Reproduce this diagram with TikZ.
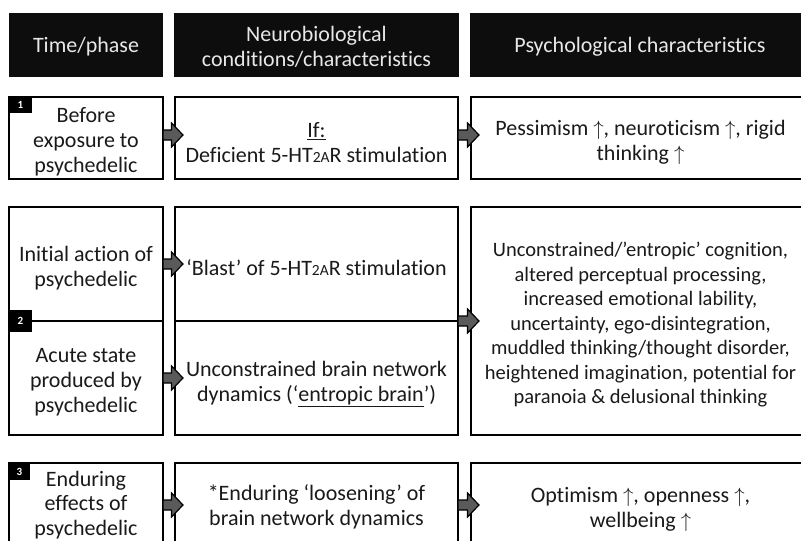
\documentclass[tikz,border=0pt]{standalone}
\usepackage{fontspec}
\setmainfont{Carlito}[Ligatures=NoCommon]
\usetikzlibrary{calc}
\definecolor{txt}{HTML}{1A1A1A}
\definecolor{hdr}{HTML}{0D0D0D}
\definecolor{agray}{HTML}{5A5A5A}
\definecolor{htxt}{HTML}{E8E8E8}
\newcommand{\htwoa}{5-HT{\fontsize{15.5}{15.5}\selectfont 2A}R}
\newcommand{\upar}{ $\uparrow$}
\begin{document}
\begin{tikzpicture}[x=1pt,y=-1pt,
  box/.style={draw=black, line width=2pt, fill=white, inner sep=0pt, outer sep=0pt},
  tx/.style={text=txt, align=center, inner sep=0pt, outer sep=0pt,
    font=\fontsize{22}{25}\selectfont},
  hbox/.style={fill=hdr, inner sep=0pt, outer sep=0pt},
  htx/.style={text=htxt, align=center, inner sep=0pt, outer sep=0pt,
    font=\fontsize{22}{25}\selectfont},
  tag/.style={fill=black, text=white, inner sep=0pt, outer sep=0pt,
    font=\fontsize{11}{11}\selectfont\bfseries},
  barrow/.style={fill=agray, draw=black, line width=1.2pt, line join=miter,
    to path={let \p1=(\tikztostart), \p2=(\tikztotarget) in
      (\x1,\y1-5pt) -- (\x2-3.5pt,\y1-5pt) -- (\x2-3.5pt,\y1-12pt) -- (\x2+8pt,\y1)
      -- (\x2-3.5pt,\y1+12pt) -- (\x2-3.5pt,\y1+5pt) -- (\x1,\y1+5pt) -- cycle}}
]
\useasboundingbox (0,0) rectangle (801,541);
\clip (0,0) rectangle (801,541);
\fill[white] (0,0) rectangle (801,541);

% header
\node[hbox, minimum width=154, minimum height=64] (h1) at (86,45) {};
\node[hbox, minimum width=285, minimum height=64] (h2) at (316.5,45) {};
\node[hbox, minimum width=340, minimum height=64] (h3) at (640,45) {};
\node[htx] (h1t) at ([yshift=-2pt]h1.center) {Time/phase};
\node[htx] (h2t) at ([yshift=-2pt]h2.center) {Neurobiological\\conditions/characteristics};
\node[htx] (h3t) at ([yshift=-2pt]h3.center) {Psychological characteristics};

% boxes
\node[box, minimum width=154, minimum height=82] (a1) at (86,138) {};
\node[box, minimum width=283, minimum height=82] (b1) at (316.5,138) {};
\node[box, minimum width=339, minimum height=82] (c1) at (640.5,138) {};
\node[box, minimum width=154, minimum height=114] (a2) at (86,264) {};
\node[box, minimum width=154, minimum height=114] (a3) at (86,378) {};
\node[box, minimum width=283, minimum height=114] (b2) at (316.5,264) {};
\node[box, minimum width=283, minimum height=114] (b3) at (316.5,378) {};
\node[box, minimum width=339, minimum height=228] (c2) at (640.5,321) {};
\node[box, minimum width=154, minimum height=84] (a4) at (86,505) {};
\node[box, minimum width=283, minimum height=84] (b4) at (316.5,505) {};
\node[box, minimum width=339, minimum height=84] (c3) at (640.5,505) {};

% texts
\node[tx] (a1t) at ([yshift=-4pt]a1.center) {Before\\exposure to\\psychedelic};
\node[tx] (b1t) at ([yshift=-5pt]b1.center) {\underline{If:}\\Deficient \htwoa{} stimulation};
\node[tx] (c1t) at ([yshift=-4pt]c1.center) {Pessimism\upar, neuroticism\upar, rigid\\thinking\upar};
\node[tx] (a2t) at ([yshift=-4pt]a2.center) {Initial action of\\psychedelic};
\node[tx] (a3t) at ([yshift=-4pt]a3.center) {Acute state\\produced by\\psychedelic};
\node[tx] (b2t) at ([yshift=-4pt]b2.center) {‘Blast’ of \htwoa{} stimulation};
\node[tx] (b3t) at ([yshift=-6pt]b3.center) {Unconstrained brain network\\dynamics (‘\underline{entropic brain}’)};
\node[tx, font=\fontsize{20.5}{24.5}\selectfont] (c2t) at ([yshift=-4pt]c2.center) {Unconstrained/’entropic’ cognition,\\altered perceptual processing,\\increased emotional lability,\\uncertainty, ego-disintegration,\\muddled thinking/thought disorder,\\heightened imagination, potential for\\paranoia \& delusional thinking};
\node[tx, font=\fontsize{22}{24.5}\selectfont] (a4t) at ([yshift=0pt]a4.center) {Enduring\\effects of\\psychedelic};
\node[tx] (b4t) at ([yshift=-2pt]b4.center) {*Enduring ‘loosening’ of\\brain network dynamics};
\node[tx] (c3t) at ([yshift=-4pt]c3.center) {Optimism\upar, openness\upar,\\wellbeing\upar};

% tags
\node[tag, minimum width=23, minimum height=16, anchor=north west] (t1) at (a1.north west) {1};
\node[tag, minimum width=23, minimum height=22, anchor=west] (t2) at (a2.south west) {2};
\node[tag, minimum width=21, minimum height=17, anchor=north west] (t3) at (a4.north west) {3};

% arrows
\path[barrow] ([yshift=3pt]a1.east) to (b1.west);
\path[barrow] ([yshift=3pt]b1.east) to (c1.west);
\path[barrow] (a2.east) to (b2.west);
\path[barrow] (a3.east) to (b3.west);
\path[barrow] (b2.south east) to (c2.west);
\path[barrow] (a4.east) to (b4.west);
\path[barrow] (b4.east) to (c3.west);
\end{tikzpicture}
\end{document}
